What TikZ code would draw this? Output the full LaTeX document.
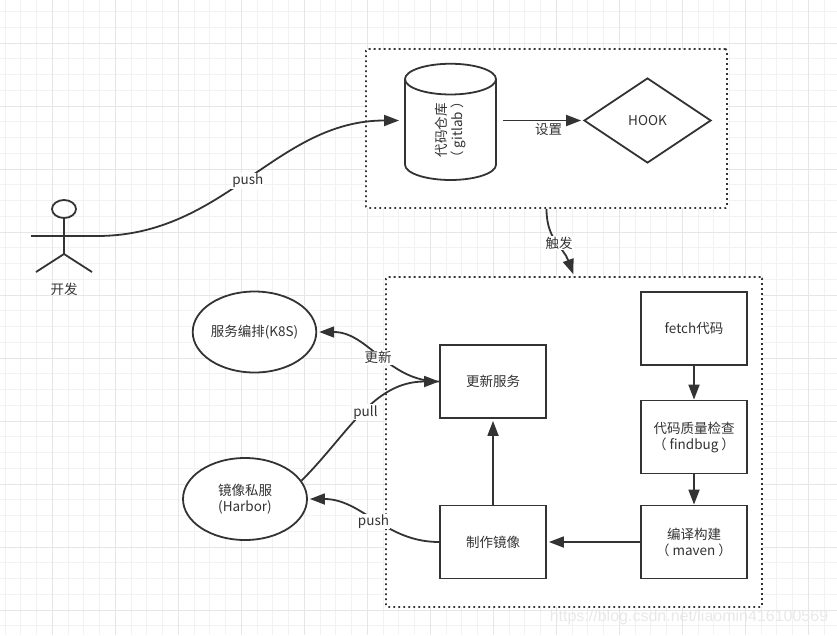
\documentclass[tikz,border=0pt]{standalone}
\usepackage{fontspec}
\setmainfont{Noto Sans CJK SC}
\newfontfamily\markfont{Liberation Sans}
\usetikzlibrary{shapes.geometric,arrows.meta}
\definecolor{ink}{HTML}{333333}
\definecolor{minorline}{HTML}{F2F2F2}
\definecolor{majorline}{HTML}{E6E6E6}

\begin{document}
\begin{tikzpicture}[x=1pt,y=-1pt,->,>={Triangle[length=15pt,width=11pt]},thick,node distance=105pt,
                    line width=1.8pt,draw=ink,text=ink,font=\fontsize{13.5}{16}\selectfont,
                    step box/.style={rectangle,draw,fill=white,minimum width=106pt,minimum height=73pt,align=center,inner sep=0pt},
                    group box/.style={rectangle,draw,fill=white,rounded corners=1.5pt,line width=1.8pt,dash pattern=on 1.8pt off 3.2pt},
                    store/.style={ellipse,draw,fill=white,align=center,inner sep=0pt},
                    grid line/.style={-,line width=.8pt}]

  \useasboundingbox (0,0) rectangle (837,635);
  % grid
  \foreach \i in {0,...,53} {
    \draw[grid line,minorline] ({5+15.75*\i},0) -- ({5+15.75*\i},635);
    \draw[grid line,minorline] (0,{11.5+15.75*\i}) -- (837,{11.5+15.75*\i});
  }
  \foreach \i in {0,...,13} {
    \draw[grid line,majorline] ({52+63*\i},0) -- ({52+63*\i},635);
    \draw[grid line,majorline] (0,{43+63*\i}) -- (837,{43+63*\i});
  }

  \node[group box,minimum width=361pt,minimum height=159pt] (source) at (546.5,128.5) {};
  \node[group box,minimum width=376pt,minimum height=330pt] (pipeline) at (574,442) {};

  \node[cylinder,draw,fill=white,rotate=90,aspect=1,minimum width=91pt,minimum height=115pt,align=center,inner sep=0pt] (repo) at (450.5,130) {代码仓库\\（ gitlab ）};
  \node[diamond,draw,fill=white,minimum width=127pt,minimum height=85pt,inner sep=0pt] (hook) at (647.5,120.5) {HOOK};

  \node[step box] (fetch) at (694,328.5) {fetch代码};
  \node[step box] (check) [below of=fetch,node distance=108.5pt] {代码质量检查\\（ findbug ）};
  \node[step box] (build) [below of=check] {编译构建\\（ maven ）};
  \node[step box] (image) [left of=build,node distance=201pt] {制作镜像};
  \node[step box] (update) [above of=image,node distance=160.5pt] {更新服务};

  \node[store,minimum width=123pt,minimum height=81pt] (k8s) at (254.5,332) {服务编排(K8S)};
  \node[store,minimum width=124pt,minimum height=82pt] (harbor) at (245,499) {镜像私服\\(Harbor)};

  % actor
  \draw[-] (64,209) ellipse (12 and 9);
  \draw[-] (64,218) -- (64,254) (36,272) -- (64,254) -- (92,272);
  \coordinate (hand) at (97,236);
  \draw[-] (31,236) -- (hand);
  \node (dev) at (64,289) {开发};

  \path[every node/.style={fill=white,inner sep=1pt}]
    (hand) edge[out=0,in=180,shorten >=5pt] node[pos=.49,yshift=-1pt] {push} (repo.north |- hook.west)
    (repo.south |- hook.west) edge[shorten <=6pt,shorten >=2pt] node[pos=.6,below=1pt,fill=none] {设置} (hook.west)
    (source.south) edge[out=-90,in=110,looseness=1.1,shorten >=2pt] node[pos=.5,xshift=3pt] {触发} (pipeline.north)
    (update.west) edge[out=180,in=0,shorten >=2pt] node[pos=.5,yshift=-1pt] {更新} (k8s.east)
    (harbor.18) edge[out=45,in=180] node[pos=.52,yshift=-1pt] {pull} (update.west)
    (image.west) edge[out=180,in=0,shorten >=2pt] node[pos=.5,yshift=-1pt] {push} (harbor.east)
    (image.north) edge[shorten >=2pt] (update.south)
    (build.west) edge[shorten >=2pt] (image.east)
    (fetch.south) edge (check.north)
    (check.south) edge (build.north);

  \node[font=\markfont\fontsize{16}{18}\selectfont,text=black!9] (mark) at (689,617) {https://blog.csdn.net/liaomin416100569};
\end{tikzpicture}
\end{document}
